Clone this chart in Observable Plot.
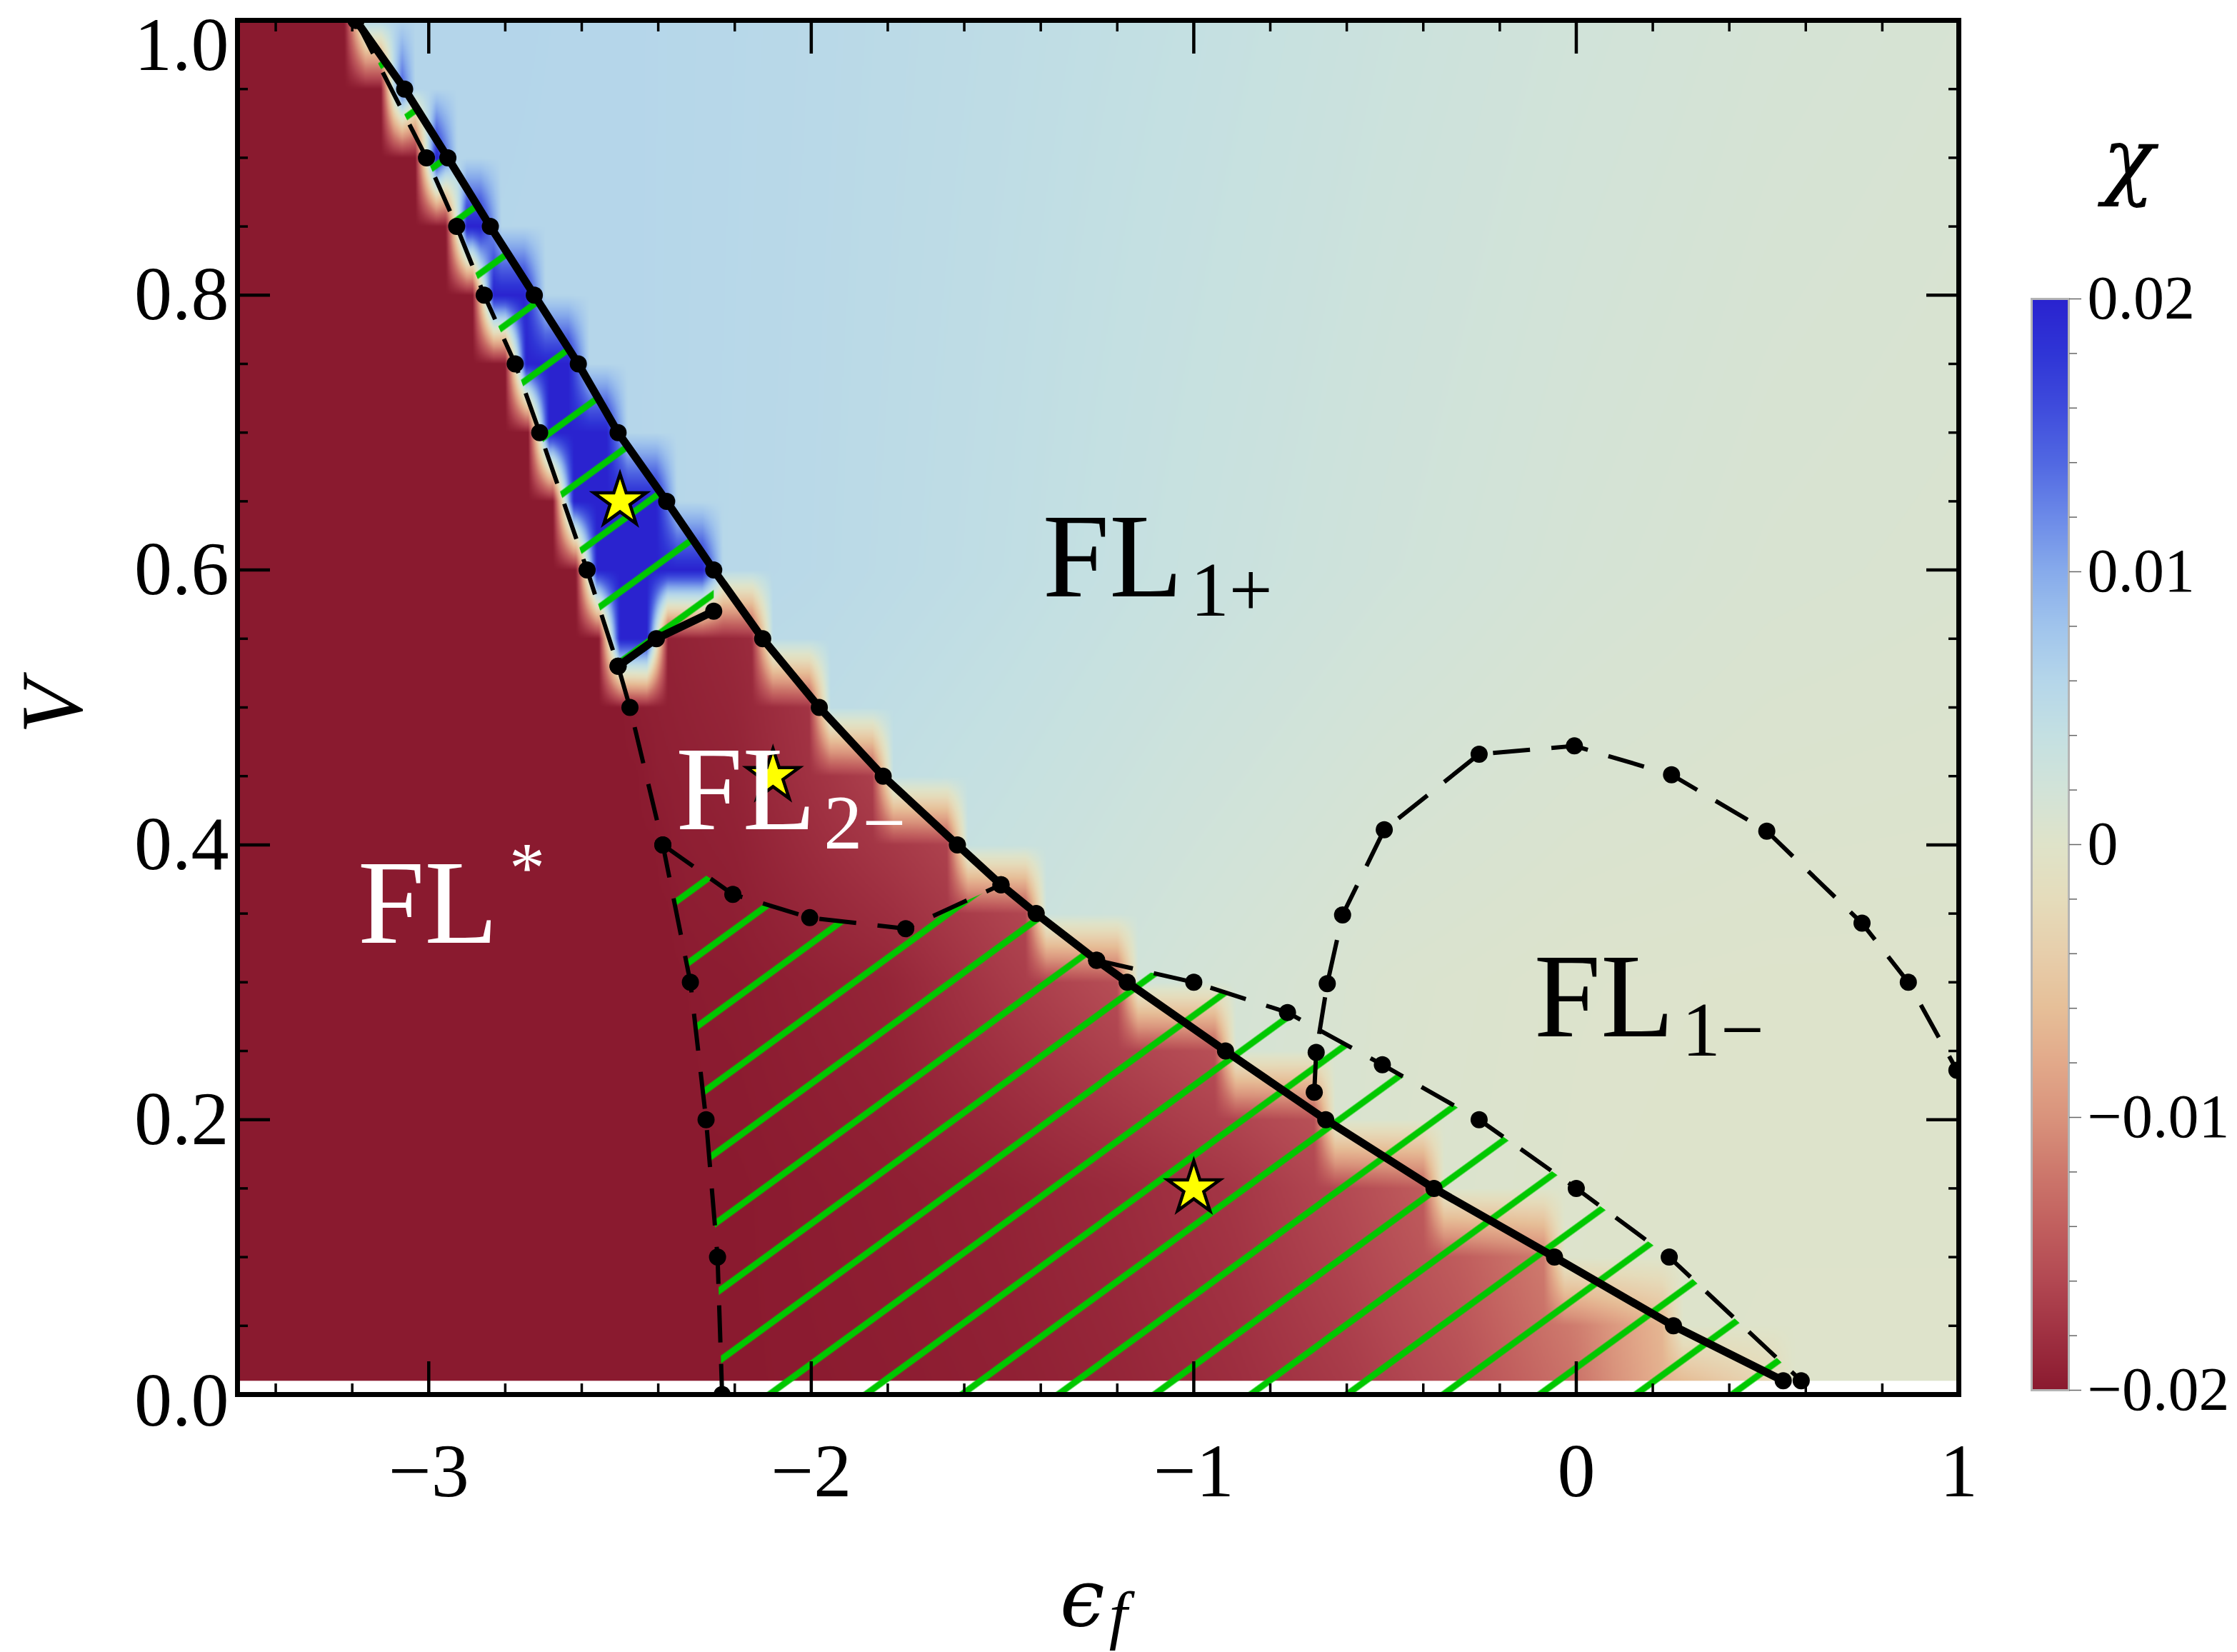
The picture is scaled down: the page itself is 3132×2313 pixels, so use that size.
<!DOCTYPE html>
<html>
<head>
<meta charset="utf-8">
<script src="https://cdn.jsdelivr.net/npm/d3@7"></script>
<script src="https://cdn.jsdelivr.net/npm/@observablehq/plot@0.6"></script>
<style>
  html, body { margin:0; padding:0; background:#fff; }
  #page { position:relative; width:3132px; height:2313px; overflow:hidden; background:#fff; }
  #main, #cbar, #overlay { position:absolute; }
  #main { left:0; top:0; }
  #overlay { left:0; top:0; pointer-events:none; }
</style>
</head>
<body>
<div id="page">
  <div id="main"></div>
  <div id="cbar"></div>
  <svg id="overlay" width="3132" height="2313" font-family="Liberation Serif, DejaVu Serif, serif">
    <text x="114" y="990" transform="rotate(-90 114 990)" text-anchor="middle" font-style="italic" font-size="122">V</text>
    <text x="1484" y="2276" font-style="italic" font-size="112" font-family="DejaVu Serif, serif">ϵ<tspan font-size="92" dx="6" dy="16" font-family="Liberation Serif, serif">f</tspan></text>
    <text x="2980" y="264" text-anchor="middle" font-style="italic" font-size="120" font-family="DejaVu Serif, serif">χ</text>
  </svg>
</div>
<script>
// ================= DATA =================
// first-order transition (thick solid line), ε_f and V
const solidEps = [-3.19,-3.063,-2.95,-2.839,-2.724,-2.609,-2.505,-2.378,-2.255,-2.127,-1.979,-1.812,-1.618,-1.504,-1.412,-1.254,-1.174,-0.917,-0.655,-0.372,-0.057,0.254,0.541];
const solidV   = [1.00,0.95,0.90,0.85,0.80,0.75,0.70,0.65,0.60,0.55,0.50,0.45,0.40,0.371,0.35,0.316,0.30,0.25,0.20,0.15,0.10,0.05,0.01];
// FL* boundary (dashed)
const leftEps = [-3.19,-3.006,-2.927,-2.855,-2.774,-2.710,-2.586,-2.505,-2.474,-2.388,-2.316,-2.275,-2.245,-2.233];
const leftV   = [1.00,0.90,0.85,0.80,0.75,0.70,0.60,0.53,0.50,0.40,0.30,0.20,0.10,0.00];
// short solid segment
const shortEps = [-2.505,-2.405,-2.255];
const shortV   = [0.53,0.55,0.57];
// FL2- lower boundary (dashed)
const midEps = [-2.388,-2.205,-2.004,-1.753,-1.504];
const midV   = [0.40,0.364,0.347,0.339,0.371];
// lower-right dashed boundary
const rightEps = [-1.254,-1.000,-0.755,-0.507,-0.254,0.000,0.243,0.588];
const rightV   = [0.316,0.300,0.278,0.240,0.200,0.150,0.100,0.010];
// FL1- dome (dashed)
const domeEps = [-0.685,-0.680,-0.651,-0.611,-0.502,-0.254,-0.005,0.249,0.498,0.747,0.868,0.995];
const domeV   = [0.220,0.249,0.299,0.349,0.411,0.466,0.472,0.451,0.410,0.343,0.300,0.236];
// stars
const starEps = [-2.5,-2.1,-1.0];
const starV   = [0.65,0.45,0.15];
// phase labels
const labelMain = ["FL","FL","FL","FL"];
const labelSub  = ["1+","1\u2212","2\u2212",""];
const labelSup  = ["","","","*"];
const labelEps  = [-1.395,-0.1105,-2.354,-3.1854];
const labelV    = [0.581,0.2605,0.4113,0.3287];
const labelWhite= [false,false,true,true];
// χ heat-map values
const heatRowsV = [0.01,0.05,0.10,0.15,0.20,0.25,0.30,0.35,0.40,0.45,0.50,0.55,0.60,0.65,0.70,0.75,0.80,0.85,0.90,0.95,1.00];
const chiFLstar = -0.02;
const chiStrip  = 0.02;
const outEps = [-3.25,-2.5,-2.0,-1.5,-1.0,-0.5,0.0,0.5,1.0];
const outV   = [0.0,0.3,0.6,1.0];
const outChi = [
  [0.0020,0.0020,0.0020,0.0018,0.0012,0.0006,0.0003,0.0002,0.0002],
  [0.0040,0.0040,0.0040,0.0030,0.0018,0.0008,0.0004,0.0003,0.0003],
  [0.0060,0.0060,0.0054,0.0045,0.0034,0.0024,0.0016,0.0011,0.0009],
  [0.0062,0.0060,0.0055,0.0048,0.0040,0.0030,0.0022,0.0016,0.0013]];
const inEps = [-2.6,-2.2,-1.8,-1.5,-1.2,-0.9,-0.6,-0.3,0.0,0.25,0.6];
const inV   = [0.0,0.15,0.3,0.45,0.6];
const inChi = [
  [-0.0200,-0.0200,-0.0198,-0.0195,-0.0190,-0.0183,-0.0172,-0.0155,-0.0125,-0.0068,-0.0010],
  [-0.0200,-0.0200,-0.0196,-0.0192,-0.0185,-0.0175,-0.0158,-0.0135,-0.0100,-0.0050,-0.0010],
  [-0.0200,-0.0198,-0.0190,-0.0172,-0.0155,-0.0140,-0.0130,-0.0120,-0.0090,-0.0050,-0.0010],
  [-0.0200,-0.0192,-0.0165,-0.0150,-0.0140,-0.0130,-0.0120,-0.0110,-0.0090,-0.0050,-0.0010],
  [-0.0200,-0.0185,-0.0160,-0.0150,-0.0140,-0.0130,-0.0120,-0.0110,-0.0090,-0.0050,-0.0010]];
// colour bar
const cbValues = [-0.020,-0.018,-0.016,-0.014,-0.012,-0.010,-0.008,-0.006,-0.004,-0.002,0,0.002,0.004,0.006,0.008,0.010,0.012,0.014,0.016,0.018,0.020];
const cbColors = ["#8a1a2f","#9f3041","#b24852","#c15f5e","#cd786c","#d9937c","#e2a98a","#e6bf98","#e7ceab","#e5dcbb","#dfe3c9","#d2e3d8","#c4e0e2","#b5d6ea","#a0c4ec","#87abeb","#6c8ae8","#5168e2","#3f4cdc","#2f35d6","#2a23cf"];
const cbMajor = [-0.02,-0.01,0,0.01,0.02];
const cbMinor = [-0.018,-0.016,-0.014,-0.012,-0.008,-0.006,-0.004,-0.002,0.002,0.004,0.006,0.008,0.012,0.014,0.016,0.018];
// axes ticks
const xMajor = [-3,-2,-1,0,1];
const xMinor = [-3.4,-3.2,-2.8,-2.6,-2.4,-2.2,-1.8,-1.6,-1.4,-1.2,-0.8,-0.6,-0.4,-0.2,0.2,0.4,0.6,0.8];
const yMajor = [0,0.2,0.4,0.6,0.8,1.0];
const yMinor = [0.05,0.1,0.15,0.25,0.3,0.35,0.45,0.5,0.55,0.65,0.7,0.75,0.85,0.9,0.95];
// hatch style
const hatchEps0 = -2.11, hatchStepEps = 0.2517, hatchAngle = 36.05, hatchWidth = 9, hatchColor = "#00c800";

// ================= helpers =================
const pts = (es, vs) => es.map((e, i) => ({e, v: vs[i]}));
function lerp1(xs, ys, x) {
  const n = xs.length;
  if (x <= xs[0]) return ys[0];
  if (x >= xs[n - 1]) return ys[n - 1];
  let i = 1; while (xs[i] < x) i++;
  const t = (x - xs[i - 1]) / (xs[i] - xs[i - 1]);
  return ys[i - 1] + t * (ys[i] - ys[i - 1]);
}
function bilerp(xs, ys, table, x, y) {
  return lerp1(ys, table.map(r => lerp1(xs, r, x)), y);
}
const LvA = leftV.slice().reverse(), LeA = leftEps.slice().reverse();
const SvA = solidV.slice().reverse(), SeA = solidEps.slice().reverse();
function regionChi(e, v) {
  const Lb = lerp1(LvA, LeA, v), Sb = lerp1(SvA, SeA, v);
  if (e < Lb) return chiFLstar;
  if (e < Sb) {
    const strip = e <= shortEps[shortEps.length - 1] && v >= lerp1(shortEps, shortV, e);
    return strip ? chiStrip : bilerp(inEps, inV, inChi, e, v);
  }
  return bilerp(outEps, outV, outChi, e, v);
}
// rows of the density plot, sampled along ε then lightly smoothed
const E0 = -3.5, E1 = 1.0, dE = 0.005, NE = Math.round((E1 - E0) / dE) + 1, BLUR = 5;
const rowArr = heatRowsV.map(v => {
  const raw = Array.from({length: NE}, (_, i) => regionChi(E0 + i * dE, v));
  return raw.map((_, i) => {
    let s = 0, c = 0;
    for (let j = i - BLUR; j <= i + BLUR; j++) if (j >= 0 && j < NE) { s += raw[j]; c++; }
    return s / c;
  });
});
function chiAt(e, v) {
  let k = 0; while (k < heatRowsV.length - 2 && heatRowsV[k + 1] < v) k++;
  const t = Math.max(0, Math.min(1, (v - heatRowsV[k]) / (heatRowsV[k + 1] - heatRowsV[k])));
  const f = (e - E0) / dE; let i = Math.floor(f); if (i < 0) i = 0; if (i > NE - 2) i = NE - 2;
  const u = Math.max(0, Math.min(1, f - i));
  const a = rowArr[k], b = rowArr[k + 1];
  const va = a[i] + u * (a[i + 1] - a[i]), vb = b[i] + u * (b[i + 1] - b[i]);
  return va + t * (vb - va);
}

const solidPts = pts(solidEps, solidV), leftPts = pts(leftEps, leftV), shortPts = pts(shortEps, shortV);
const midPts = pts(midEps, midV), rightPts = pts(rightEps, rightV), domePts = pts(domeEps, domeV);
const starPts = pts(starEps, starV);
const labels = labelMain.map((m, i) => ({main: m, sub: labelSub[i], sup: labelSup[i], e: labelEps[i], v: labelV[i], white: labelWhite[i]}));

// hatched regions built from the boundary lines
const upperPoly = [
  ...solidPts.filter(p => p.e <= shortEps[shortEps.length - 1]),
  ...shortPts.slice().reverse(),
  ...leftPts.filter(p => p.v > shortV[0]).reverse()
];
const lowerPoly = [
  ...midPts,
  ...solidPts.filter(p => p.v < midV[midV.length - 1] && p.v >= rightV[0]),
  ...rightPts.slice(1),
  {e: rightEps[rightEps.length - 1], v: 0},
  ...leftPts.filter(p => p.v < midV[0]).reverse()
];

const colorOpts = {type: "linear", domain: cbValues, range: cbColors, clamp: true, interpolate: "rgb"};
const FONT = "Liberation Serif, DejaVu Serif, serif";
const fmtX = d => d < 0 ? "\u2212" + Math.abs(d) : String(d);
const fmtY = d => d.toFixed(1);
const fmtCb = d => d === 0 ? "0" : (d < 0 ? "\u2212" : "") + Math.abs(d).toFixed(2);
const yInner = yMajor.filter(d => d > yMajor[0] && d < yMajor[yMajor.length - 1]);

const dashed = {x: "e", y: "v", stroke: "black", strokeWidth: 6, strokeDasharray: "52,30", strokeLinecap: "butt", clip: true};
const main = Plot.plot({
  width: 2800, height: 2313,
  marginLeft: 332, marginRight: 58, marginTop: 28, marginBottom: 361,
  x: {domain: [E0, E1]},
  y: {domain: [0, 1]},
  color: colorOpts,
  style: {fontFamily: FONT, background: "transparent", color: "black", overflow: "visible"},
  marks: [
    Plot.raster({x1: E0, x2: E1, y1: heatRowsV[0], y2: heatRowsV[heatRowsV.length - 1], fill: chiAt, pixelSize: 2}),
    Plot.line(upperPoly, {x: "e", y: "v", fill: "url(#hatch)", stroke: "none"}),
    Plot.line(lowerPoly, {x: "e", y: "v", fill: "url(#hatch)", stroke: "none"}),
    Plot.line(leftPts, dashed),
    Plot.line(midPts, dashed),
    Plot.line(rightPts, dashed),
    Plot.line(domePts, dashed),
    Plot.line(solidPts, {x: "e", y: "v", stroke: "black", strokeWidth: 11, clip: true}),
    Plot.line(shortPts, {x: "e", y: "v", stroke: "black", strokeWidth: 11, clip: true}),
    Plot.dot([...solidPts, ...leftPts, ...shortPts, ...midPts, ...rightPts, ...domePts], {x: "e", y: "v", r: 12, fill: "black", clip: true}),
    Plot.dot(starPts, {x: "e", y: "v", symbol: "star", r: 23, fill: "#ffff00", stroke: "black", strokeWidth: 4.5}),
    Plot.text(labels, {filter: d => d.white, x: "e", y: "v", text: "main", fill: "white", fontSize: 168, textAnchor: "start", lineAnchor: "bottom"}),
    Plot.text(labels, {filter: d => !d.white, x: "e", y: "v", text: "main", fill: "black", fontSize: 168, textAnchor: "start", lineAnchor: "bottom"}),
    Plot.text(labels, {filter: d => d.white, x: "e", y: "v", text: "sub", fill: "white", fontSize: 108, textAnchor: "start", lineAnchor: "bottom", dx: 207, dy: 27}),
    Plot.text(labels, {filter: d => !d.white, x: "e", y: "v", text: "sub", fill: "black", fontSize: 108, textAnchor: "start", lineAnchor: "bottom", dx: 207, dy: 27}),
    Plot.text(labels, {filter: d => d.white, x: "e", y: "v", text: "sup", fill: "white", fontSize: 100, textAnchor: "start", lineAnchor: "bottom", dx: 212, dy: -72}),
    // ticks (inward, mirrored)
    Plot.axisX(xMajor, {anchor: "bottom", tickSize: -46, strokeWidth: 4.5, fill: "none"}),
    Plot.axisX(xMajor, {anchor: "top", tickSize: -46, strokeWidth: 4.5, fill: "none"}),
    Plot.axisX(xMinor, {anchor: "bottom", tickSize: -15, strokeWidth: 3.5, fill: "none"}),
    Plot.axisX(xMinor, {anchor: "top", tickSize: -15, strokeWidth: 3.5, fill: "none"}),
    Plot.axisY(yMajor, {anchor: "left", tickSize: -46, strokeWidth: 4.5, fill: "none"}),
    Plot.axisY(yMajor, {anchor: "right", tickSize: -46, strokeWidth: 4.5, fill: "none"}),
    Plot.axisY(yMinor, {anchor: "left", tickSize: -15, strokeWidth: 3.5, fill: "none"}),
    Plot.axisY(yMinor, {anchor: "right", tickSize: -15, strokeWidth: 3.5, fill: "none"}),
    // tick labels
    Plot.axisX(xMajor, {anchor: "bottom", tickSize: 0, tickPadding: 67, fontSize: 106, tickFormat: fmtX, label: null, stroke: "none"}),
    Plot.axisY(yInner, {anchor: "left", tickSize: 0, tickPadding: 12, fontSize: 106, tickFormat: fmtY, label: null, stroke: "none"}),
    Plot.axisY([yMajor[yMajor.length - 1]], {anchor: "left", tickSize: 0, tickPadding: 12, fontSize: 106, tickFormat: fmtY, label: null, stroke: "none", dy: 36}),
    Plot.axisY([yMajor[0]], {anchor: "left", tickSize: 0, tickPadding: 12, fontSize: 106, tickFormat: fmtY, label: null, stroke: "none", dy: 10}),
    Plot.frame({stroke: "black", strokeWidth: 7})
  ]
});
document.getElementById("main").appendChild(main);

// hatch pattern aligned with the x/y scales
(function addHatch() {
  const ns = "http://www.w3.org/2000/svg";
  const xs = main.scale("x"), ys = main.scale("y");
  const ax = xs.apply(hatchEps0), ay = ys.apply(0);
  const hx = xs.apply(hatchEps0 + hatchStepEps) - ax;
  const th = hatchAngle * Math.PI / 180;
  const P = hx * Math.sin(th);
  const defs = document.createElementNS(ns, "defs");
  const pat = document.createElementNS(ns, "pattern");
  pat.setAttribute("id", "hatch");
  pat.setAttribute("patternUnits", "userSpaceOnUse");
  pat.setAttribute("width", 100);
  pat.setAttribute("height", P);
  pat.setAttribute("patternTransform", `translate(${ax - (P / 2) * Math.sin(th)},${ay - (P / 2) * Math.cos(th)}) rotate(${-hatchAngle})`);
  const r = document.createElementNS(ns, "rect");
  r.setAttribute("x", -1); r.setAttribute("y", P / 2 - hatchWidth / 2);
  r.setAttribute("width", 102); r.setAttribute("height", hatchWidth);
  r.setAttribute("fill", hatchColor);
  pat.appendChild(r); defs.appendChild(pat);
  main.insertBefore(defs, main.firstChild);
})();

// colour bar
const cbTop = 418, cbBottom = 1946, cbLeft = 2844, cbW = 52, cbMT = 60, cbMB = 60, cbWidth = 288;
const cbar = Plot.plot({
  width: cbWidth, height: (cbBottom - cbTop) + cbMT + cbMB,
  marginLeft: 0, marginRight: cbWidth - cbW, marginTop: cbMT, marginBottom: cbMB,
  x: {domain: [0, 1], axis: null},
  y: {domain: [cbValues[0], cbValues[cbValues.length - 1]]},
  color: colorOpts,
  style: {fontFamily: FONT, background: "transparent", color: "black", overflow: "visible"},
  marks: [
    Plot.raster({x1: 0, x2: 1, y1: cbValues[0], y2: cbValues[cbValues.length - 1], fill: (x, y) => y, pixelSize: 1}),
    Plot.frame({stroke: "#b4b4b4", strokeWidth: 3}),
    Plot.axisY(cbMajor, {anchor: "right", tickSize: 17, strokeWidth: 1.5, stroke: "#666", fill: "none"}),
    Plot.axisY(cbMinor, {anchor: "right", tickSize: 11, strokeWidth: 1.5, stroke: "#666", fill: "none"}),
    Plot.axisY(cbMajor, {anchor: "right", tickSize: 0, tickPadding: 26, fontSize: 86, tickFormat: fmtCb, label: null, stroke: "none"})
  ]
});
const cbDiv = document.getElementById("cbar");
cbDiv.style.left = cbLeft + "px";
cbDiv.style.top = (cbTop - cbMT) + "px";
cbDiv.appendChild(cbar);
</script>
</body>
</html>
